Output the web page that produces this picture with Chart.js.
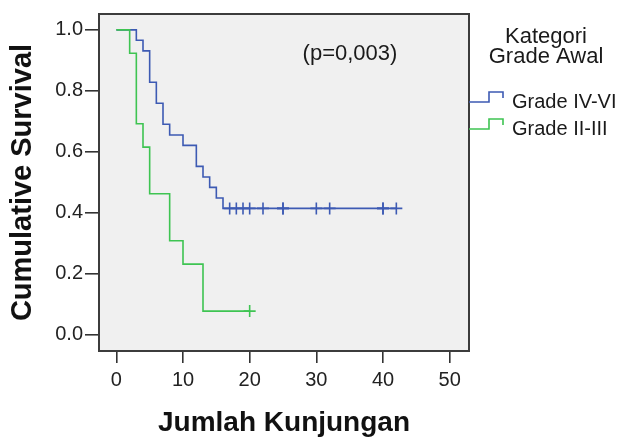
<!DOCTYPE html>
<html>
<head>
<meta charset="utf-8">
<script src="https://cdn.jsdelivr.net/npm/chart.js@4.4.0/dist/chart.umd.min.js"></script>
<style>
  html, body { margin: 0; padding: 0; background: #ffffff; }
  canvas { display: block; }
</style>
</head>
<body>
<canvas id="km" width="624" height="440"></canvas>
<script>
// Kaplan-Meier survival, values
const groups = ['Grade IV-VI', 'Grade II-III'];
const legendTitle = ['Kategori', 'Grade Awal'];
const pValueLabel = '(p=0,003)';

const blueTimes = [0, 3, 4, 5, 6, 7, 8, 10, 12, 13, 14, 15, 16, 42];
const blueSurvival = [1.0, 0.966, 0.931, 0.828, 0.759, 0.690, 0.655, 0.621, 0.552, 0.517, 0.483, 0.448, 0.414, 0.414];
const blueCensorTimes = [17, 18, 19, 20, 22, 25, 25, 30, 32, 40, 40, 42];
const blueCensorSurvival = [0.414, 0.414, 0.414, 0.414, 0.414, 0.414, 0.414, 0.414, 0.414, 0.414, 0.414, 0.414];

const greenTimes = [0, 2, 3, 4, 5, 8, 10, 13, 20];
const greenSurvival = [1.0, 0.923, 0.692, 0.615, 0.462, 0.308, 0.231, 0.077, 0.077];
const greenCensorTimes = [20];
const greenCensorSurvival = [0.077];

const xTicks = [0, 10, 20, 30, 40, 50];
const yTicks = [0, 0.2, 0.4, 0.6, 0.8, 1.0];

const BLUE = '#3d5ab3';
const GREEN = '#3ec452';
const FONT = '"Liberation Sans", Arial, sans-serif';

function points(xs, ys) {
    return xs.map((x, i) => ({ x: x, y: ys[i] }));
}

// light grey plot area, dark frame, legend and p value text
const decorations = {
    id: 'decorations',
    beforeDraw(chart) {
        const { ctx, chartArea: a } = chart;
        ctx.save();
        ctx.fillStyle = '#f0f0f0';
        ctx.fillRect(a.left, a.top, a.right - a.left, a.bottom - a.top);
        ctx.restore();
    },
    beforeDatasetsDraw(chart) {
        const { ctx, chartArea: a } = chart;
        ctx.save();
        ctx.strokeStyle = '#3c3c3c';
        ctx.lineWidth = 2;
        ctx.strokeRect(a.left, a.top, a.right - a.left, a.bottom - a.top);

        ctx.fillStyle = '#1a1a1a';
        ctx.font = '22px ' + FONT;
        ctx.textAlign = 'center';
        ctx.textBaseline = 'alphabetic';
        ctx.fillText(pValueLabel, 350, 60);
        ctx.restore();
    },
    afterDraw(chart) {
        const ctx = chart.ctx;
        ctx.save();
        ctx.fillStyle = '#1a1a1a';
        ctx.font = '22px ' + FONT;
        ctx.textAlign = 'center';
        ctx.textBaseline = 'alphabetic';
        ctx.fillText(legendTitle[0], 546, 43);
        ctx.fillText(legendTitle[1], 546, 63);

        const colors = [BLUE, GREEN];
        ctx.font = '20px ' + FONT;
        ctx.textAlign = 'left';
        groups.forEach((name, i) => {
            const base = 108 + i * 27;
            ctx.strokeStyle = colors[i];
            ctx.lineWidth = 1.6;
            ctx.beginPath();
            ctx.moveTo(469, base - 6);
            ctx.lineTo(489, base - 6);
            ctx.lineTo(489, base - 16);
            ctx.lineTo(503, base - 16);
            ctx.lineTo(503, base - 10);
            ctx.stroke();
            ctx.fillText(name, 512, base);
        });
        ctx.restore();
    }
};

new Chart(document.getElementById('km').getContext('2d'), {
    type: 'scatter',
    data: {
        datasets: [
            {
                label: groups[1],
                data: points(greenTimes, greenSurvival),
                showLine: true,
                stepped: 'before',
                borderColor: GREEN,
                borderWidth: 1.6,
                pointRadius: 0,
                order: 0
            },
            {
                label: groups[1] + ' censored',
                data: points(greenCensorTimes, greenCensorSurvival),
                showLine: false,
                pointStyle: 'cross',
                pointRadius: 6,
                borderColor: GREEN,
                borderWidth: 1.6,
                order: 0
            },
            {
                label: groups[0],
                data: points(blueTimes, blueSurvival),
                showLine: true,
                stepped: 'before',
                borderColor: BLUE,
                borderWidth: 1.6,
                pointRadius: 0,
                order: 1
            },
            {
                label: groups[0] + ' censored',
                data: points(blueCensorTimes, blueCensorSurvival),
                showLine: false,
                pointStyle: 'cross',
                pointRadius: 6,
                borderColor: BLUE,
                borderWidth: 1.6,
                order: 1
            }
        ]
    },
    options: {
        responsive: false,
        animation: false,
        events: [],
        layout: { padding: { left: 0, right: 155, top: 8, bottom: 0 } },
        plugins: {
            legend: { display: false },
            tooltip: { enabled: false }
        },
        scales: {
            x: {
                type: 'linear',
                min: -2.6,
                max: 52.9,
                afterBuildTicks: scale => { scale.ticks = xTicks.map(v => ({ value: v })); },
                afterFit: scale => { scale.height = 89; },
                border: { display: false },
                grid: {
                    drawOnChartArea: false,
                    drawTicks: true,
                    tickLength: 12,
                    color: '#333333',
                    lineWidth: 1.6
                },
                ticks: {
                    color: '#222222',
                    padding: 5,
                    maxRotation: 0,
                    font: { size: 20, family: FONT }
                },
                title: {
                    display: true,
                    text: 'Jumlah Kunjungan',
                    color: '#111111',
                    padding: { top: 0, bottom: 0 },
                    font: { size: 28, weight: 'bold', family: FONT }
                }
            },
            y: {
                type: 'linear',
                min: -0.054,
                max: 1.052,
                afterBuildTicks: scale => { scale.ticks = yTicks.map(v => ({ value: v })); },
                afterFit: scale => { scale.width = 99; },
                border: { display: false },
                grid: {
                    drawOnChartArea: false,
                    drawTicks: true,
                    tickLength: 14,
                    color: '#333333',
                    lineWidth: 1.6
                },
                ticks: {
                    color: '#222222',
                    padding: 2,
                    callback: v => v.toFixed(1),
                    font: { size: 20, family: FONT }
                },
                title: {
                    display: true,
                    text: 'Cumulative Survival',
                    color: '#111111',
                    padding: { top: 6, bottom: 0 },
                    font: { size: 29, weight: 'bold', family: FONT }
                }
            }
        }
    },
    plugins: [decorations]
});
</script>
</body>
</html>
